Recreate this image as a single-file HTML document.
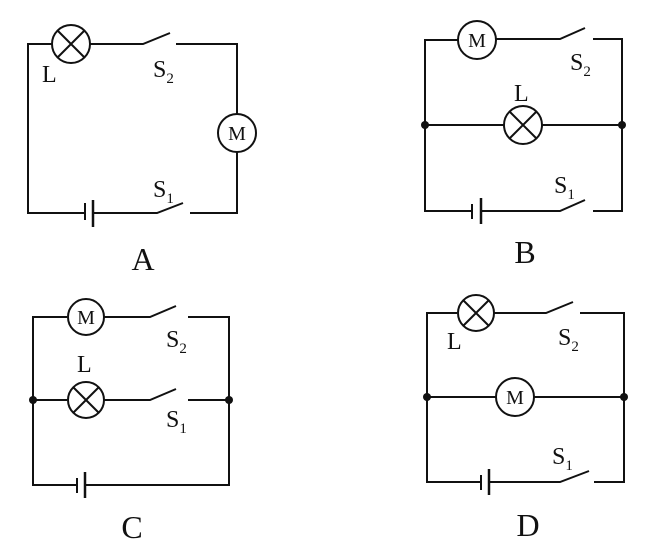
<!DOCTYPE html>
<html><head><meta charset="utf-8"><style>
body{margin:0;background:#fff}
svg{display:block}
text{font-family:"Liberation Serif",serif;fill:#111}
</style></head><body>
<svg width="670" height="550" viewBox="0 0 670 550" xmlns="http://www.w3.org/2000/svg">
<g stroke="#111" stroke-width="2" fill="none">
<!-- A -->
<path d="M52 44 H28 V213 H85 M93 213 H157 L183 203 M190 213 H237 V152 M237 114 V44 H176 M170 33 L143 44 H90"/>
<circle cx="71" cy="44" r="19" fill="#fff"/>
<path d="M58 31 L84 57 M84 31 L58 57"/>
<path d="M85 203 V220" stroke-width="2"/><path d="M93 200 V227" stroke-width="2.5"/>
<circle cx="237" cy="133" r="19" fill="#fff"/>
<!-- B -->
<path d="M458 40 H425 V211 H472 M481 211 H560 L585 200 M593 211 H622 V39 H593 M585 28 L560 39 H496 M425 125 H504 M542 125 H622"/>
<circle cx="477" cy="40" r="19" fill="#fff"/>
<circle cx="523" cy="125" r="19" fill="#fff"/>
<path d="M510 112 L536 138 M536 112 L510 138"/>
<path d="M472 204 V219"/><path d="M481 198 V224" stroke-width="2.5"/>
<circle cx="425" cy="125" r="4" fill="#111" stroke="none"/>
<circle cx="622" cy="125" r="4" fill="#111" stroke="none"/>
<!-- C -->
<path d="M67 317 H33 V485 H77 M85 485 H229 V317 H188 M176 306 L150 317 H103 M33 400 H67 M103 400 H150 L176 389 M188 400 H229"/>
<circle cx="86" cy="317" r="18" fill="#fff"/>
<circle cx="86" cy="400" r="18" fill="#fff"/>
<path d="M73 387 L99 413 M99 387 L73 413"/>
<path d="M77 478 V493"/><path d="M85 472 V498" stroke-width="2.5"/>
<circle cx="33" cy="400" r="4" fill="#111" stroke="none"/>
<circle cx="229" cy="400" r="4" fill="#111" stroke="none"/>
<!-- D -->
<path d="M457 313 H427 V482 H481 M489 482 H560 L589 471 M594 482 H624 V313 H580 M573 302 L546 313 H494 M427 397 H496 M534 397 H624"/>
<circle cx="476" cy="313" r="18" fill="#fff"/>
<path d="M463 300 L489 326 M489 300 L463 326"/>
<circle cx="515" cy="397" r="19" fill="#fff"/>
<path d="M481 475 V490"/><path d="M489 469 V495" stroke-width="2.5"/>
<circle cx="427" cy="397" r="4" fill="#111" stroke="none"/>
<circle cx="624" cy="397" r="4" fill="#111" stroke="none"/>
</g>
<g font-size="20" text-anchor="middle">
<text x="237" y="140">M</text>
<text x="477" y="47">M</text>
<text x="86" y="324">M</text>
<text x="515" y="404">M</text>
</g>
<g font-size="24">
<text x="42" y="82">L</text>
<text x="153" y="77">S<tspan font-size="15" dy="6">2</tspan></text>
<text x="153" y="197">S<tspan font-size="15" dy="6">1</tspan></text>
<text x="514" y="101">L</text>
<text x="570" y="70">S<tspan font-size="15" dy="6">2</tspan></text>
<text x="554" y="193">S<tspan font-size="15" dy="6">1</tspan></text>
<text x="77" y="372">L</text>
<text x="166" y="347">S<tspan font-size="15" dy="6">2</tspan></text>
<text x="166" y="427">S<tspan font-size="15" dy="6">1</tspan></text>
<text x="447" y="349">L</text>
<text x="558" y="345">S<tspan font-size="15" dy="6">2</tspan></text>
<text x="552" y="464">S<tspan font-size="15" dy="6">1</tspan></text>
</g>
<g font-size="32" text-anchor="middle">
<text x="143" y="270">A</text>
<text x="525" y="263">B</text>
<text x="132" y="538">C</text>
<text x="528" y="536">D</text>
</g>
</svg>
</body></html>
